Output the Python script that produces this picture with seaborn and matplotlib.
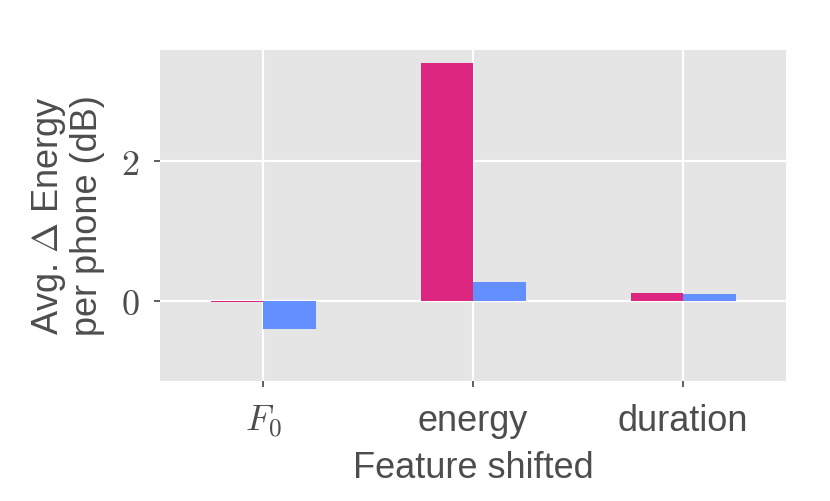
import matplotlib
matplotlib.use("Agg")
import matplotlib.pyplot as plt
import seaborn as sns
import pandas as pd

# Datos
features = ["F0", "energy", "duration"]
feature_labels = [r"$F_0$", "energy", "duration"]
series_names = ["rojo", "azul"]
valores_rojo = [-0.02, 3.40, 0.11]
valores_azul = [-0.40, 0.27, 0.10]
y_ticks = [0, 2]
y_tick_labels = [r"$0$", r"$2$"]

colores = {"rojo": "#DC267F", "azul": "#648FFF"}

df = pd.DataFrame({
    "feature": features * 2,
    "serie": [series_names[0]] * 3 + [series_names[1]] * 3,
    "valor": valores_rojo + valores_azul,
})

sns.set_theme(style="darkgrid", rc={
    "axes.facecolor": "#E5E5E5",
    "grid.color": "white",
    "grid.linewidth": 1.6,
})
plt.rcParams["font.family"] = ["Liberation Sans", "DejaVu Sans"]
plt.rcParams["mathtext.fontset"] = "cm"

fig, ax = plt.subplots(figsize=(8.3, 5.01), dpi=100)
fig.subplots_adjust(left=0.193, right=0.947, top=0.900, bottom=0.240)

sns.barplot(data=df, x="feature", y="valor", hue="serie", order=features,
            hue_order=series_names, palette=colores, width=0.5,
            saturation=1, legend=False, ax=ax, linewidth=0)

ax.set_xlim(-0.49, 2.49)
ax.set_ylim(-1.14, 3.59)
ax.set_yticks(y_ticks)
ax.set_yticklabels(y_tick_labels)
ax.set_xticks(range(len(features)))
ax.set_xticklabels(feature_labels)
ax.set_axisbelow(True)
ax.grid(True, which="major", color="white", linewidth=1.6)

ax.tick_params(axis="both", which="major", labelsize=26, labelcolor="#4D4D4D",
               color="#333333", length=4, width=1.1, bottom=True, left=True)
ax.tick_params(axis="x", pad=12.5)
ax.tick_params(axis="y", pad=11)

ax.set_xlabel("Feature shifted", fontsize=26, color="#4D4D4D", labelpad=8)
ax.set_ylabel("Avg. $\\Delta$ Energy\nper phone (dB)", fontsize=26,
              color="#4D4D4D", linespacing=1.08, labelpad=11)

for lado in ax.spines.values():
    lado.set_visible(False)

plt.savefig("out.png", dpi=100)
